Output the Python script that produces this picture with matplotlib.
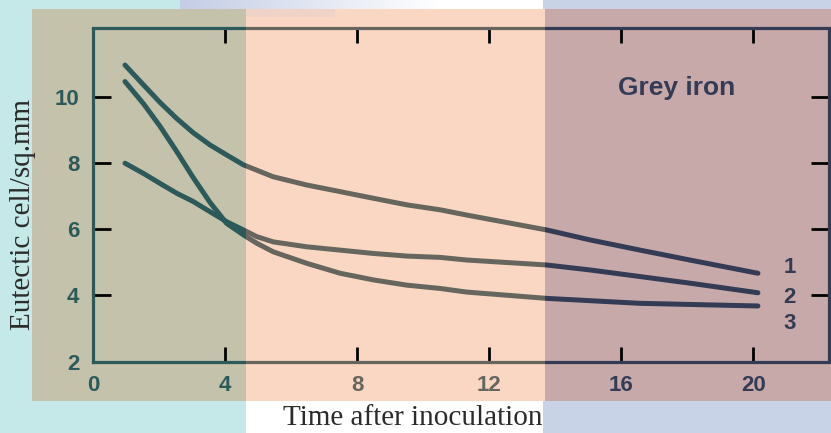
import numpy as np
import matplotlib.pyplot as plt
from matplotlib.patches import Rectangle

# values
t1 = [0.96, 1.52, 2.02, 2.53, 3.03, 3.54, 4.04, 4.55, 5.45, 6.47, 7.48,
      8.48, 9.5, 10.51, 11.32, 13.74, 15.05, 16.57, 18.08, 20.14]
c1 = [10.97, 10.37, 9.84, 9.35, 8.92, 8.55, 8.25, 7.95, 7.59, 7.34, 7.14,
      6.94, 6.74, 6.59, 6.43, 5.98, 5.68, 5.37, 5.07, 4.67]
t2 = [0.96, 1.52, 2.02, 2.53, 3.03, 3.54, 4.04, 4.55, 4.95, 5.45, 6.47,
      7.48, 8.48, 9.5, 10.51, 11.32, 13.74, 15.05, 16.57, 18.08, 20.14]
c2 = [8.0, 7.69, 7.39, 7.09, 6.84, 6.53, 6.23, 5.98, 5.78, 5.62, 5.47,
      5.37, 5.27, 5.19, 5.15, 5.07, 4.92, 4.77, 4.57, 4.37, 4.08]
t3 = [0.96, 1.52, 2.02, 2.53, 3.03, 3.54, 4.04, 4.55, 4.95, 5.45, 6.47,
      7.48, 8.48, 9.5, 10.51, 11.32, 13.74, 16.57, 20.14]
c3 = [10.47, 9.80, 9.12, 8.35, 7.56, 6.81, 6.18, 5.83, 5.58, 5.32, 4.97,
      4.67, 4.47, 4.31, 4.21, 4.10, 3.91, 3.76, 3.68]
curve_names = ['1', '2', '3']
name_y = [4.83, 3.95, 3.16]
xticks = [0, 4, 8, 12, 16, 20]
yticks = [2, 4, 6, 8, 10]

W, H = 831, 433
fig = plt.figure(figsize=(W / 100, H / 100), dpi=100)
fig.patch.set_facecolor('white')


# rectangle given in pixel coords (y from top) on the figure
def frect(x0, y0, x1, y1, color, z):
    r = Rectangle((x0 / W, 1 - y1 / H), (x1 - x0) / W, (y1 - y0) / H,
                  transform=fig.transFigure, facecolor=color,
                  edgecolor='none', zorder=z)
    fig.add_artist(r)
    return r


# slide background
frect(0, 0, 246, H, '#c4e9e8', -3)
frect(543, 0, W, H, '#c9d3e8', -3)
gax = fig.add_axes([180 / W, 1 - 9 / H, 363 / W, 9 / H], zorder=-2.5)
grad = np.ones((1, 363, 3))
f = np.clip(np.arange(363) / 260, 0, 1)
grad[0, :, 0] = (196 + (255 - 196) * f) / 255
grad[0, :, 1] = (205 + (255 - 205) * f) / 255
grad[0, :, 2] = (229 + (255 - 229) * f) / 255
gax.imshow(grad, aspect='auto')
gax.axis('off')

# coloured overlay bands: (left, right, fill, ink)
bands = [(32, 246, '#c5c2ab', '#2c5a5b'),
         (246, 545, '#fad7c2', '#66665f'),
         (545, W, '#c8a9a9', '#343c55')]
clips = []
for x0, x1, fill, ink in bands:
    frect(x0, 9, x1, 401, fill, -2)
    clips.append((Rectangle((x0 / W, 1 - 401 / H), (x1 - x0) / W, 392 / H,
                            transform=fig.transFigure), ink))
frect(246, 9, 335, 17, '#efd3c6', -1.9)

ax = fig.add_axes([93.3 / W, 1 - 361.5 / H, (829 - 93.3) / W, (361.5 - 28.3) / H])
ax.set_facecolor('none')
xmax = (829 - 93.3) / 33
ymax = 2 + (361.5 - 28.3) / 33.05
ax.set_xlim(0, xmax)
ax.set_ylim(2, ymax)
for s in ax.spines.values():
    s.set_visible(False)

for clip, ink in clips:
    fr, = ax.plot([0, xmax, xmax, 0, 0], [2, 2, ymax, ymax, 2], color=ink,
                  lw=2.3, solid_joinstyle='miter')
    fr.set_clip_path(clip)
    for t, c in [(t1, c1), (t2, c2), (t3, c3)]:
        ln, = ax.plot(t, c, color=ink, lw=3.6, solid_capstyle='round',
                      solid_joinstyle='round')
        ln.set_clip_path(clip)

tickfont = dict(family='Liberation Sans', weight='bold', size=16)
ax.set_xticks(xticks)
ax.set_yticks(yticks)
ax.set_xticklabels([str(v) for v in xticks], fontdict=tickfont)
ax.set_yticklabels([str(v) for v in yticks], fontdict=tickfont)
ax.tick_params(axis='x', direction='in', top=True, length=11, width=2, pad=10)
ax.tick_params(axis='y', direction='in', right=True, length=13, width=2, pad=10)


def ink_at(px):
    for x0, x1, fill, ink in bands:
        if x0 <= px < x1:
            return ink
    return bands[-1][3]


for t in ax.xaxis.get_major_ticks():
    px = ax.transData.transform((t.get_loc(), 2))[0]
    c = ink_at(px)
    t.tick1line.set_color(c)
    t.tick2line.set_color(c)
    t.label1.set_color(c)
for t in ax.yaxis.get_major_ticks():
    t.tick1line.set_color(bands[0][3])
    t.tick2line.set_color(bands[2][3])
    t.label1.set_color(bands[0][3])

for name, y in zip(curve_names, name_y):
    ax.text(21.1, y, name, ha='center', va='center', color=bands[2][3],
            family='Liberation Sans', weight='bold', size=16)
ax.text(17.68, 10.28, 'Grey iron', ha='center', va='center',
        color=bands[2][3], family='Liberation Sans', weight='bold', size=19)

fig.text(23 / W, 1 - 214 / H, 'Eutectic cell/sq.mm', rotation=90,
         ha='center', va='center', family='Liberation Serif', size=21,
         color='#2b2b2b')
fig.text(413 / W, 1 - 418 / H, 'Time after inoculation', ha='center',
         va='center', family='Liberation Serif', size=21, color='#2b2b2b')

fig.savefig('out.png', dpi=100)
